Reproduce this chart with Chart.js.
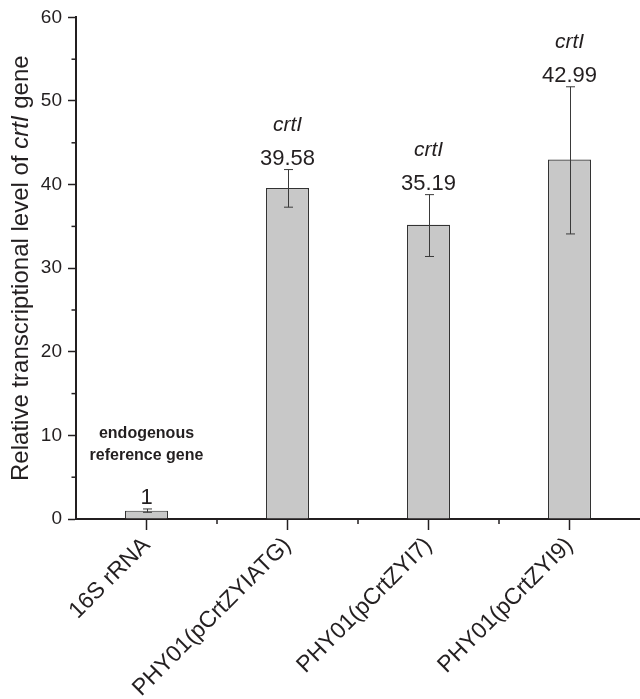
<!DOCTYPE html>
<html>
<head>
<meta charset="utf-8">
<script src="https://cdn.jsdelivr.net/npm/chart.js@4.4.1/dist/chart.umd.min.js"></script>
<style>
  html, body { margin: 0; padding: 0; background: #fff; }
  #wrap { width: 640px; height: 699px; position: relative; }
</style>
</head>
<body>
<div id="wrap"><canvas id="canvas1"></canvas></div>
<script>
// donnees
const categories = ['16S rRNA', 'PHY01(pCrtZYIATG)', 'PHY01(pCrtZYI7)', 'PHY01(pCrtZYI9)'];
const levels = [1, 39.58, 35.19, 42.99];
const errLow = [0.8, 37.3, 31.4, 34.1];
const errHigh = [1.2, 41.8, 38.8, 51.7];
const valueLabels = ['1', '39.58', '35.19', '42.99'];
const geneTags = ['', 'crtI', 'crtI', 'crtI'];
const refNote = ['endogenous', 'reference gene'];
const yTicks = [0, 10, 20, 30, 40, 50, 60];
const yMinorTicks = [5, 15, 25, 35, 45, 55];

const FONT = "'Liberation Sans', Arial, Helvetica, sans-serif";
const INK = '#231f20';

// barres d'erreur + petites graduations + etiquettes
const extras = {
    id: 'extras',
    afterDatasetsDraw(chart) {
        const ctx = chart.ctx;
        const x = chart.scales.x;
        const y = chart.scales.y;
        ctx.save();

        // error bars
        ctx.strokeStyle = '#3a3a3a';
        ctx.lineWidth = 1;
        levels.forEach((v, i) => {
            const px = Math.round(x.getPixelForValue(i)) + 0.5;
            const yLo = y.getPixelForValue(errLow[i]);
            const yHi = y.getPixelForValue(errHigh[i]);
            ctx.beginPath();
            ctx.moveTo(px, yLo); ctx.lineTo(px, yHi);
            ctx.moveTo(px - 4.5, yLo); ctx.lineTo(px + 4.5, yLo);
            ctx.moveTo(px - 4.5, yHi); ctx.lineTo(px + 4.5, yHi);
            ctx.stroke();
        });

        // minor ticks
        ctx.strokeStyle = INK;
        ctx.lineWidth = 1.5;
        yMinorTicks.forEach(t => {
            const py = y.getPixelForValue(t);
            ctx.beginPath();
            ctx.moveTo(y.right - 4.5, py); ctx.lineTo(y.right, py);
            ctx.stroke();
        });
        for (let i = 1; i < categories.length; i++) {
            const px = (x.getPixelForValue(i - 1) + x.getPixelForValue(i)) / 2;
            ctx.beginPath();
            ctx.moveTo(px, x.top); ctx.lineTo(px, x.top + 5);
            ctx.stroke();
        }

        // value labels
        ctx.fillStyle = INK;
        ctx.textAlign = 'center';
        ctx.textBaseline = 'alphabetic';
        levels.forEach((v, i) => {
            const px = x.getPixelForValue(i);
            const base = y.getPixelForValue(errHigh[i]) - 5;
            ctx.font = '22px ' + FONT;
            ctx.fillText(valueLabels[i], px, base);
            if (geneTags[i]) {
                ctx.font = 'italic 21px ' + FONT;
                ctx.fillText(geneTags[i], px, base - 34);
            } else {
                ctx.font = 'bold 16px ' + FONT;
                ctx.fillText(refNote[1], px, base - 43.5);
                ctx.fillText(refNote[0], px, base - 66);
            }
        });

        // y title with italic gene name
        const parts = [
            ['Relative transcriptional level of ', ''],
            ['crtI', 'italic '],
            [' gene', '']
        ];
        let total = 0;
        parts.forEach(p => {
            ctx.font = p[1] + '24px ' + FONT;
            total += ctx.measureText(p[0]).width;
        });
        const cy = (chart.chartArea.top + chart.chartArea.bottom) / 2;
        ctx.translate(28, cy);
        ctx.rotate(-Math.PI / 2);
        ctx.textAlign = 'left';
        let cx = -total / 2;
        parts.forEach(p => {
            ctx.font = p[1] + '24px ' + FONT;
            ctx.fillText(p[0], cx, 0);
            cx += ctx.measureText(p[0]).width;
        });
        ctx.restore();
    }
};

let chartCanvas = document.getElementById('canvas1');
let chartCtx = chartCanvas.getContext('2d');

let config = {
    type: 'bar',
    data: {
        labels: categories,
        datasets: [{
            data: levels,
            backgroundColor: '#c8c8c8',
            borderColor: '#333333',
            borderWidth: 1.2,
            categoryPercentage: 1,
            barPercentage: 0.305
        }]
    },
    options: {
        responsive: true,
        maintainAspectRatio: false,
        animation: false,
        layout: { padding: { top: 16, left: 0, right: 0, bottom: 0 } },
        plugins: {
            legend: { display: false },
            tooltip: { enabled: false }
        },
        scales: {
            x: {
                offset: true,
                grid: {
                    offset: false,
                    drawOnChartArea: false,
                    drawTicks: true,
                    tickLength: 11,
                    tickWidth: 1.5,
                    tickColor: INK
                },
                border: { color: INK, width: 2 },
                ticks: {
                    color: INK,
                    font: { family: FONT, size: 23 },
                    minRotation: 45,
                    maxRotation: 45,
                    padding: 2,
                    autoSkip: false
                },
                afterFit(scale) { scale.height = 180; }
            },
            y: {
                min: 0,
                max: 60,
                afterBuildTicks(scale) {
                    scale.ticks = yTicks.map(v => ({ value: v }));
                },
                grid: {
                    drawOnChartArea: false,
                    drawTicks: true,
                    tickLength: 8,
                    tickWidth: 1.5,
                    tickColor: INK
                },
                border: { color: INK, width: 2 },
                ticks: {
                    color: INK,
                    font: { family: FONT, size: 19 },
                    padding: 6
                },
                afterFit(scale) { scale.width = 76; }
            }
        }
    },
    plugins: [extras]
};

let barChart = new Chart(chartCtx, config);
</script>
</body>
</html>
